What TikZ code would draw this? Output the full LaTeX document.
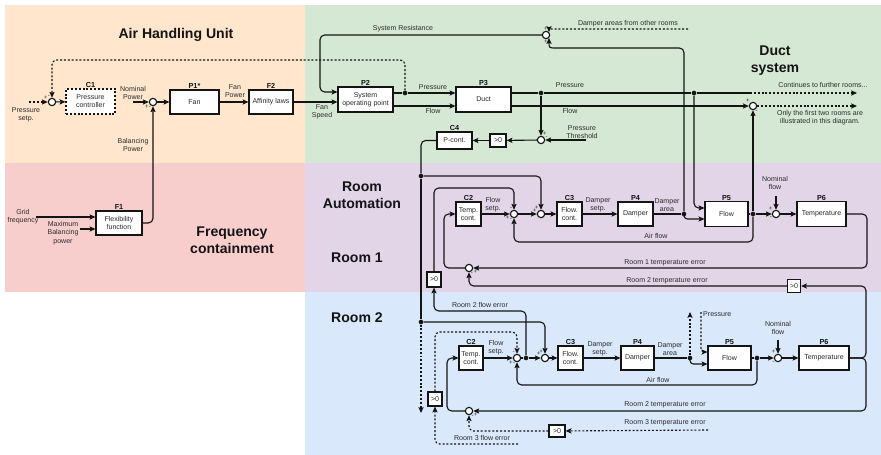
\documentclass[tikz,border=0pt]{standalone}
\usepackage{fontspec}
\setmainfont{Liberation Sans}
\usetikzlibrary{arrows.meta,calc}
\definecolor{ink}{HTML}{141414}
\definecolor{txt}{HTML}{2B2B2B}
\definecolor{ahu}{HTML}{FFE6CC}
\definecolor{duct}{HTML}{D5E8D4}
\definecolor{freq}{HTML}{F8CECC}
\definecolor{roomone}{HTML}{E1D5E7}
\definecolor{roomtwo}{HTML}{DAE8FC}
\tikzset{wire/.style={draw=ink,line width=.95pt},signal/.style={wire,-{Stealth[length=5pt,width=4.4pt,inset=1pt]}},dsh/.style={dash pattern=on 1.7pt off 1.6pt},blockbox/.style={draw=ink,fill=white,line width=.95pt,inner sep=0pt,align=center,text=txt,font=\fontsize{6}{7}\selectfont,label distance=2.2pt},sumnode/.style={circle,draw=ink,fill=white,line width=.95pt,minimum size=2.2mm,inner sep=0pt,label distance=3.3pt},joint/.style={circle,fill=ink,minimum size=1.4mm,inner sep=0pt},figlabel/.style={text=txt,align=center,font=\fontsize{6}{7}\selectfont,inner sep=0pt},blocktag/.style={font=\bfseries\fontsize{6.2}{7}\selectfont,text=ink,inner sep=.5pt},zonetitle/.style={font=\bfseries\fontsize{12}{14.5}\selectfont,text=ink,align=center,inner sep=0pt},pm/.style={font=\fontsize{5.2}{5}\selectfont,text=txt,inner sep=.3pt}}

\begin{document}
\begin{tikzpicture}[x=0.03cm,y=-0.03cm]
\useasboundingbox (0,0) rectangle (881,455);
\fill[ahu] (5,5) rectangle (305,163);\fill[duct] (305,5) rectangle (881,163);
\fill[freq] (5,163) rectangle (305,292);\fill[roomone] (305,163) rectangle (881,292);
\fill[roomtwo] (305,292) rectangle (881,455);
% air handling unit
\node[zonetitle] (tahu) at (176,35) {Air Handling Unit};
\node[sumnode,label={[pm]160:+},label={[pm]112:-}] (s1) at (52,102) {};
\node[blockbox,dsh,minimum width=14.7mm,minimum height=7.5mm,label={[blocktag]above:C1}] (c1) at (90.5,101.5) {Pressure\\controller};
\node[sumnode,label={[pm]207:+},label={[pm]248:-}] (s2) at (153,102) {};
\node[blockbox,minimum width=14.7mm,minimum height=7.2mm,label={[blocktag]above:P1*}] (p1) at (194.5,102) {Fan};
\node[blockbox,minimum width=13.2mm,minimum height=7.2mm,label={[blocktag]above:F2}] (f2) at (271,102) {Affinity laws};
\node[figlabel] (lps) at (26,115) {Pressure\\setp.};
\node[figlabel] (lnp) at (133,93) {Nominal\\Power};
\node[figlabel] (lbp) at (133,145) {Balancing\\Power};
\node[figlabel] (lfp) at (235,91) {Fan\\Power};
\node[figlabel] (lfs) at (322,112) {Fan\\Speed};
% frequency containment
\node[zonetitle] (tfreq) at (232,240) {Frequency\\containment};
\node[blockbox,minimum width=13.8mm,minimum height=7.2mm,label={[blocktag]above:F1}] (f1) at (119,223) {Flexibility\\function};
\node[figlabel] (lgf) at (23,217) {Grid\\frequency};
\node[figlabel] (lmb) at (63,233) {Maximum\\Balancing\\power};
% duct system
\node[zonetitle] (tduct) at (775,61) {Duct\\system};
\node[blockbox,minimum width=16.5mm,minimum height=7.5mm,label={[blocktag]above:P2}] (p2) at (365.5,99.5) {System\\operating point};
\node[blockbox,minimum width=16.5mm,minimum height=7.5mm,label={[blocktag]above:P3}] (p3) at (483.5,99.5) {Duct};
\node[sumnode,label={[pm]90:+},label={[pm]270:+}] (s3) at (546,35) {};
\node[sumnode,label={[pm]130:+},label={[pm]300:-}] (s4) at (753,106) {};
\node[sumnode,label={[pm]67:+},label={[pm]18:-}] (sth) at (541,140) {};
\node[blockbox,minimum width=4.8mm,minimum height=3.9mm] (gtd) at (498,140.5) {>0};
\node[blockbox,minimum width=10.5mm,minimum height=5.1mm,label={[blocktag]above:C4}] (c4) at (454.5,140.5) {P-cont.};
\node[joint] (dp2) at (405,93) {};\node[joint] (dp3a) at (541,93) {};\node[joint] (dp3b) at (694,93) {};
\node[joint] (dc4a) at (421,176) {};\node[joint] (dc4b) at (421,322) {};
\node[figlabel] (lsr) at (403,29) {System Resistance};
\node[figlabel] (lpr1) at (433,87) {Pressure};\node[figlabel] (lfl1) at (433,111) {Flow};
\node[figlabel] (lpr2) at (570,85) {Pressure};\node[figlabel] (lfl2) at (570,111) {Flow};
\node[figlabel] (ldam) at (628,24) {Damper areas from other rooms};
\node[figlabel] (lcont) at (823,85) {Continues to further rooms...};
\node[figlabel] (lonly) at (820,118) {Only the first two rooms are\\illustrated in this diagram.};
\node[figlabel] (lthr) at (582,132) {Pressure\\Threshold};
% room 1
\node[zonetitle] (troom) at (362,195) {Room\\Automation};
\node[zonetitle] (troom1) at (357,258) {Room 1};
\node[blockbox,minimum width=7.5mm,minimum height=7.2mm,label={[blocktag]above:C2}] (c21) at (468.5,214) {Temp.\\cont.};
\node[sumnode,label={[pm]108:-},label={[pm]197:+},label={[pm]250:-}] (sa1) at (514,214) {};
\node[sumnode,label={[pm]163:+},label={[pm]117:+}] (sb1) at (541,214) {};
\node[blockbox,minimum width=7.5mm,minimum height=7.2mm,label={[blocktag]above:C3}] (c31) at (569.5,214) {Flow.\\cont.};
\node[blockbox,minimum width=10.5mm,minimum height=7.2mm,label={[blocktag]above:P4}] (p41) at (635.5,214) {Damper};
\node[joint] (dda1) at (684,214) {};
\node[blockbox,minimum width=12.9mm,minimum height=7.5mm,label={[blocktag]above:P5}] (p51) at (726.5,214) {Flow};
\node[joint] (dp51) at (753,214) {};
\node[sumnode,label={[pm]135:+},label={[pm]211:-}] (s51) at (776,214) {};
\node[blockbox,minimum width=14.7mm,minimum height=7.5mm,label={[blocktag]above:P6}] (p61) at (821.5,214) {Temperature};
\node[sumnode,label={[pm]339:+},label={[pm]287:-}] (sc1) at (469,268) {};
\node[blockbox,minimum width=4.2mm,minimum height=4.5mm] (gt1) at (434,279.5) {>0};
\node[blockbox,minimum width=3.9mm,minimum height=3.9mm] (gt21) at (794,286) {>0};
\node[figlabel] (lfs1) at (493,205) {Flow\\setp.};
\node[figlabel] (lds1) at (598,205) {Damper\\setp.};
\node[figlabel] (lda1) at (667,205) {Damper\\area};
\node[figlabel] (lnf1) at (775,183) {Nominal\\flow};
\node[figlabel] (laf1) at (656,236) {Air flow};
\node[figlabel] (lte1) at (665,263) {Room 1 temperature error};
\node[figlabel] (lte2a) at (667,281) {Room 2 temperature error};
% room 2
\node[zonetitle] (troom2) at (357,318) {Room 2};
\node[blockbox,minimum width=7.2mm,minimum height=7.2mm,label={[blocktag]above:C2}] (c22) at (471,358) {Temp.\\cont.};
\node[sumnode,label={[pm]114:-},label={[pm]207:+},label={[pm]252:-}] (sa2) at (517,358) {};
\node[joint] (dsa2) at (526,358) {};
\node[sumnode,label={[pm]110:+},label={[pm]157:+}] (sb2) at (545,358) {};
\node[blockbox,minimum width=7.5mm,minimum height=7.2mm,label={[blocktag]above:C3}] (c32) at (570.5,358) {Flow.\\cont.};
\node[blockbox,minimum width=9.9mm,minimum height=7.2mm,label={[blocktag]above:P4}] (p42) at (637.5,358) {Damper};
\node[joint] (dda2) at (690,358) {};
\node[blockbox,minimum width=12.9mm,minimum height=7.2mm,label={[blocktag]above:P5}] (p52) at (729.5,358) {Flow};
\node[joint] (dp52) at (757,358) {};
\node[sumnode,label={[pm]124:+},label={[pm]222:-}] (s52) at (778,358) {};
\node[blockbox,minimum width=15mm,minimum height=7.2mm,label={[blocktag]above:P6}] (p62) at (824,358) {Temperature};
\node[sumnode,label={[pm]339:+},label={[pm]300:-}] (sc2) at (469,411) {};
\node[blockbox,minimum width=4.2mm,minimum height=4.2mm] (gt2) at (435,399) {>0};
\node[blockbox,minimum width=4.8mm,minimum height=3.6mm] (gt3) at (557,431) {>0};
\node[figlabel] (lfe2) at (480,305) {Room 2 flow error};
\node[figlabel] (lfs2) at (496,348) {Flow\\setp.};
\node[figlabel] (lds2) at (600,349) {Damper\\setp.};
\node[figlabel] (lda2) at (670,349) {Damper\\area};
\node[figlabel,anchor=west] (lpr3) at (703,314) {Pressure};
\node[figlabel] (lnf2) at (778,328) {Nominal\\flow};
\node[figlabel] (laf2) at (658,380) {Air flow};
\node[figlabel] (lte2b) at (665,405) {Room 2 temperature error};
\node[figlabel] (lte3) at (665,423) {Room 3 temperature error};
\node[figlabel] (lfe3) at (482,438) {Room 3 flow error};
% free ends and bends
\coordinate (psin) at (29,102);\coordinate (fbk) at (52,60);\coordinate (npin) at (133,102);
\coordinate (gfin) at (36,217);\coordinate (mbin) at (80,229);
\coordinate (srx) at (320,92);\coordinate (yfl) at (0,106);
\coordinate (conta) at (750,93);\coordinate (contb) at (857,93);\coordinate (contc) at (857,106);
\coordinate (thin) at (586,140);\coordinate (c4end) at (421,413);
\coordinate (damin) at (688,29);\coordinate (srb) at (556,48);
\coordinate (p5a1) at ($(p51.west)+(0,-6)$);\coordinate (p5b1) at ($(p51.west)+(0,5)$);
\coordinate (p5a2) at ($(p52.west)+(0,-6)$);\coordinate (p5b2) at ($(p52.west)+(0,6)$);
\coordinate (af1) at (514,242);\coordinate (nf1) at (776,196);\coordinate (te1) at (867,268);
\coordinate (tc1) at (444,214);\coordinate (u1) at (514,188);\coordinate (rf2) at (434,311);
\coordinate (te2u) at (866,286);\coordinate (te2d) at (866,411);
\coordinate (dup) at (690,312);\coordinate (prin2) at (701,312);
\coordinate (af2) at (517,385);\coordinate (nf2) at (778,340);\coordinate (tc2) at (447,358);
\coordinate (u2) at (517,332);\coordinate (r3f) at (518,444);\coordinate (r3t) at (708,430);
% air handling unit signals
\draw[signal,dsh] (psin) -- (s1);
\draw[signal,dsh,rounded corners=4pt] (dp2) |- (fbk) -- (s1);
\draw[signal] (s1) -- (c1);
\draw[signal] (npin) -- (s2);\draw[signal] (s2) -- (p1);\draw[signal] (p1) -- (f2);
\draw[signal] (f2) -- (f2 -| p2.west);
\draw[signal] (gfin) -- (gfin -| f1.west);\draw[signal] (mbin) -- (mbin -| f1.west);
\draw[signal,rounded corners=4pt] (f1) -| (s2);
% duct signals
\draw[signal,rounded corners=4pt] (s3) -| (srx) -- (srx -| p2.west);
\draw[wire] (p2.east |- dp2) -- (dp2);
\draw[signal] (dp2) -- (dp2 -| p3.west);
\draw[signal] (p2.east |- yfl) -- (p3.west |- yfl);
\draw[wire] (p3.east |- dp2) -- (dp3a) -- (dp3b) -- (conta);
\draw[signal,dsh] (conta) -- (contb);
\draw[signal] (p3.east |- yfl) -- (s4);
\draw[signal,dsh] (s4) -- (contc);
\draw[signal] (dp3a) -- (sth);\draw[signal] (thin) -- (sth);
\draw[signal] (sth) -- (gtd);\draw[signal] (gtd) -- (c4);
\draw[wire,rounded corners=4pt] (c4) -| (dc4a);
\draw[wire] (dc4a) -- (dc4b);
\draw[signal,dsh] (dc4b) -- (c4end);
\draw[signal,dsh] (damin) -- (556,29) .. controls (549,29) .. (s3.north east);
\draw[wire,rounded corners=4pt] (dda1) |- (srb);
\draw[signal] (srb) .. controls (549,48) .. (s3.south east);
% room 1 signals
\draw[signal,rounded corners=4pt] (dc4a) -| (sb1);
\draw[signal] (c21) -- (sa1);\draw[signal] (sa1) -- (sb1);\draw[signal] (sb1) -- (c31);
\draw[signal] (c31) -- (p41);\draw[wire] (p41) -- (dda1);
\draw[signal,rounded corners=3pt] (dda1) |- (p5b1);
\draw[signal,rounded corners=4pt] (dp3b) |- (p5a1);
\draw[wire] (p51) -- (dp51);\draw[signal] (dp51) -- (s51);\draw[signal] (dp51) -- (s4);
\draw[signal,rounded corners=4pt] (dp51) |- (af1) -- (sa1);
\draw[signal] (nf1) -- (s51);\draw[signal] (s51) -- (p61);
\draw[signal,rounded corners=4pt] (p61) -| (te1) -- (sc1);
\draw[signal,rounded corners=4pt] (sc1) -| (tc1) -- (c21);
\draw[signal,rounded corners=4pt] (gt1) |- (u1) -- (sa1);
\draw[signal,rounded corners=4pt] (gt21) -| (sc1);
% room 2 signals
\draw[signal,rounded corners=4pt] (dc4b) -| (sb2);
\draw[signal] (c22) -- (sa2);\draw[wire] (sa2) -- (dsa2);\draw[signal] (dsa2) -- (sb2);
\draw[signal] (sb2) -- (c32);\draw[signal] (c32) -- (p42);\draw[wire] (p42) -- (dda2);
\draw[signal,rounded corners=4pt] (dsa2) |- (rf2) -- (gt1);
\draw[signal,rounded corners=3pt] (dda2) |- (p5b2);
\draw[signal,dsh] (dda2) -- (dup);
\draw[signal,dsh,rounded corners=3pt] (prin2) |- (p5a2);
\draw[wire] (p52) -- (dp52);\draw[signal] (dp52) -- (s52);
\draw[signal,rounded corners=4pt] (dp52) |- (af2) -- (sa2);
\draw[signal] (nf2) -- (s52);\draw[signal] (s52) -- (p62);
\draw[signal,rounded corners=4pt] (p62) -| (te2u) -- (gt21);
\draw[signal,rounded corners=4pt] (p62) -| (te2d) -- (sc2);
\draw[signal,rounded corners=4pt] (sc2) -| (tc2) -- (c22);
\draw[signal,dsh,rounded corners=4pt] (gt2) |- (u2) -- (sa2);
\draw[signal,dsh,rounded corners=4pt] (r3f) -| (gt2);
\draw[signal,dsh] (r3t) -- (gt3);
\draw[signal,dsh,rounded corners=4pt] (gt3) -| (sc2);
\end{tikzpicture}
\end{document}
